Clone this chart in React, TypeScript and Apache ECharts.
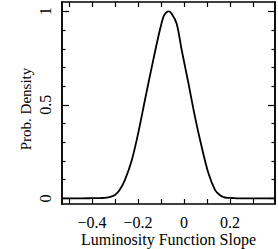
import React, { useEffect, useRef } from "react";
import * as echarts from "echarts";

const slopeValues = [
  -0.53, -0.45, -0.4, -0.36, -0.343, -0.32, -0.3, -0.28, -0.257, -0.227, -0.199, -0.17, -0.14,
  -0.112, -0.09, -0.078, -0.068, -0.055, -0.032, -0.01, 0.019, 0.048, 0.077, 0.106, 0.135,
  0.155, 0.171, 0.19, 0.207, 0.24, 0.3, 0.395,
];
const densityValues = [
  0, 0, 0.001, 0.002, 0.003, 0.008, 0.018, 0.045, 0.098, 0.204, 0.349, 0.525, 0.703,
  0.863, 0.97, 0.993, 1.0, 0.99, 0.934, 0.792, 0.616, 0.433, 0.273, 0.134, 0.044,
  0.018, 0.007, 0.003, 0.002, 0, 0, 0,
];

const xTicks = [-0.5, -0.4, -0.3, -0.2, -0.1, 0, 0.1, 0.2, 0.3];
const xLabels = [-0.4, -0.2, 0, 0.2];
const yMajorTicks = [0, 0.5, 1];
const yMinorTicks = [0.1, 0.2, 0.3, 0.4, 0.6, 0.7, 0.8, 0.9];
const yLabels = [0, 0.5, 1];

const FONT = "'Liberation Serif', 'Times New Roman', 'DejaVu Serif', serif";
const fmt = (v: number) => {
  const r = Math.round(v * 100) / 100;
  return r < 0 ? "\u2212" + String(Math.abs(r)) : String(r);
};

export default function App() {
  const ref = useRef<HTMLDivElement>(null);
  useEffect(() => {
    document.body.style.margin = "0";
    const chart = echarts.init(ref.current!, null, { renderer: "svg" });
    const lineStyle = { color: "#000", width: 1.5 };
    const tickStyle = { color: "#000", width: 1.2 };
    const baseX = {
      type: "value",
      min: -0.53,
      max: 0.395,
      splitLine: { show: false },
      axisLine: { show: true, onZero: false, lineStyle },
    };
    const baseY = {
      type: "value",
      min: -0.03,
      max: 1.05,
      splitLine: { show: false },
      axisLine: { show: true, onZero: false, lineStyle },
    };
    chart.setOption({
      animation: false,
      textStyle: { fontFamily: FONT },
      grid: { left: 62, right: 3, top: 2, bottom: 45, containLabel: false, outerBoundsMode: "none" },
      xAxis: [
        {
          ...baseX,
          position: "bottom",
          name: "Luminosity Function Slope",
          nameLocation: "middle",
          nameGap: 27,
          nameMoveOverlap: false,
          nameTextStyle: { fontFamily: FONT, fontSize: 16, color: "#000" },
          axisTick: { show: true, inside: true, length: 5, customValues: xTicks, lineStyle: tickStyle },
          axisLabel: {
            show: true,
            customValues: xLabels,
            margin: 10,
            fontFamily: FONT,
            fontSize: 16,
            color: "#000",
            formatter: fmt,
            hideOverlap: false,
          },
        },
        {
          ...baseX,
          position: "top",
          axisTick: { show: true, inside: true, length: 5, customValues: xTicks, lineStyle: tickStyle },
          axisLabel: { show: false },
        },
      ],
      yAxis: [
        {
          ...baseY,
          position: "left",
          name: "Prob. Density",
          nameLocation: "middle",
          nameGap: 29,
          nameMoveOverlap: false,
          nameTextStyle: { fontFamily: FONT, fontSize: 15, color: "#000", padding: [0, 12, 0, 0] },
          axisTick: { show: true, inside: true, length: 7, customValues: yMajorTicks, lineStyle: tickStyle },
          axisLabel: {
            show: true,
            customValues: yLabels,
            rotate: 90,
            margin: 9,
            fontFamily: FONT,
            fontSize: 16,
            color: "#000",
            formatter: fmt,
            hideOverlap: false,
          },
        },
        {
          ...baseY,
          position: "left",
          axisTick: { show: true, inside: true, length: 3.5, customValues: yMinorTicks, lineStyle: tickStyle },
          axisLabel: { show: false },
        },
        {
          ...baseY,
          position: "right",
          axisTick: { show: true, inside: true, length: 7, customValues: yMajorTicks, lineStyle: tickStyle },
          axisLabel: { show: false },
        },
        {
          ...baseY,
          position: "right",
          axisTick: { show: true, inside: true, length: 3.5, customValues: yMinorTicks, lineStyle: tickStyle },
          axisLabel: { show: false },
        },
      ],
      series: [
        {
          type: "line",
          xAxisIndex: 0,
          yAxisIndex: 0,
          data: slopeValues.map((x, i) => [x, densityValues[i]]),
          smooth: 0.3,
          showSymbol: false,
          lineStyle: { color: "#000", width: 1.8 },
        },
      ],
    });
    return () => chart.dispose();
  }, []);
  return <div ref={ref} style={{ width: 278, height: 249 }} />;
}
